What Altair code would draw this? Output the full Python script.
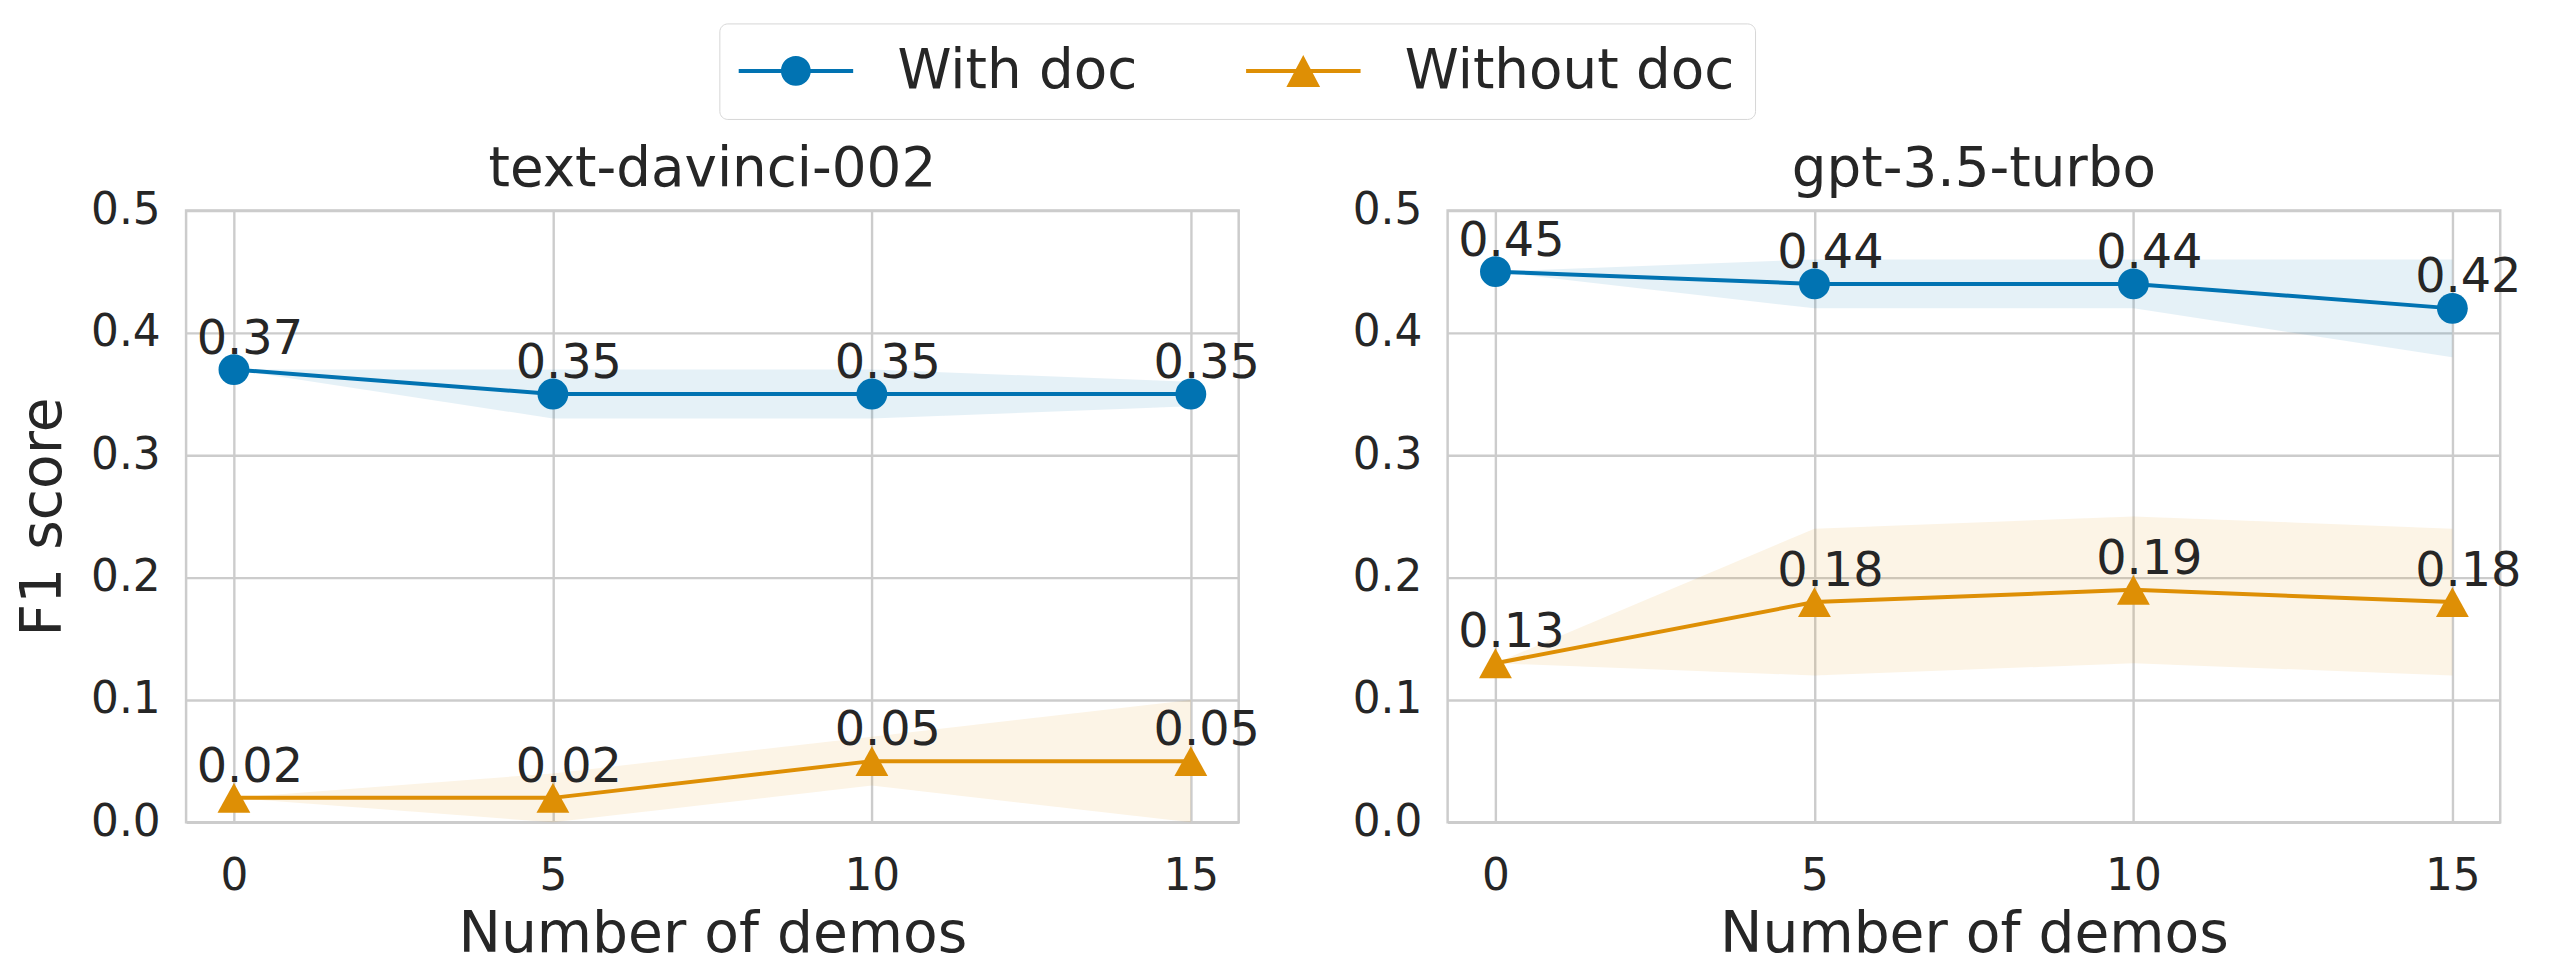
import altair as alt
import pandas as pd

# ---------------- data ----------------
demos = [0, 5, 10, 15]
models = ["text-davinci-002", "gpt-3.5-turbo"]
series_names = ["With doc", "Without doc"]

davinci_with = [0.37, 0.35, 0.35, 0.35]
davinci_with_lo = [0.37, 0.33, 0.33, 0.34]
davinci_with_hi = [0.37, 0.37, 0.37, 0.36]

davinci_without = [0.02, 0.02, 0.05, 0.05]
davinci_without_lo = [0.02, 0.00, 0.03, 0.00]
davinci_without_hi = [0.02, 0.04, 0.07, 0.10]

gpt_with = [0.45, 0.44, 0.44, 0.42]
gpt_with_lo = [0.45, 0.42, 0.42, 0.38]
gpt_with_hi = [0.45, 0.46, 0.46, 0.46]

gpt_without = [0.13, 0.18, 0.19, 0.18]
gpt_without_lo = [0.13, 0.12, 0.13, 0.12]
gpt_without_hi = [0.13, 0.24, 0.25, 0.24]

y_ticks = [0.0, 0.1, 0.2, 0.3, 0.4, 0.5]

colors = {"With doc": "#0173b2", "Without doc": "#de8f05"}
TEXT = "#262626"
FONT = "DejaVu Sans"

rows = []
table = {
    ("text-davinci-002", "With doc"): (davinci_with, davinci_with_lo, davinci_with_hi),
    ("text-davinci-002", "Without doc"): (davinci_without, davinci_without_lo, davinci_without_hi),
    ("gpt-3.5-turbo", "With doc"): (gpt_with, gpt_with_lo, gpt_with_hi),
    ("gpt-3.5-turbo", "Without doc"): (gpt_without, gpt_without_lo, gpt_without_hi),
}
for (m, s), (v, lo, hi) in table.items():
    for x, a, b, c in zip(demos, v, lo, hi):
        rows.append({"model": m, "series": s, "x": x, "y": a, "lo": b, "hi": c,
                     "label": f"{a:.2f}"})
df = pd.DataFrame(rows)

# marker paths (unit square -1..1)
TRI = "M0,-1L1.1,1L-1.1,1Z"
LEG_CIRCLE = ("M-1.87,-0.13L5.8,-0.13L5.8,0.13L-1.87,0.13Z "
              "M2.96,0A1,1 0 1,1 0.96,0A1,1 0 1,1 2.96,0Z")
LEG_TRI = ("M-1.87,-0.13L5.8,-0.13L5.8,0.13L-1.87,0.13Z "
           "M1.96,-1.07L3.09,1.07L0.83,1.07Z")

xscale = alt.Scale(domain=[-0.75, 15.75], nice=False, zero=False)
yscale = alt.Scale(domain=[0, 0.5], nice=False, zero=False)


def panel(model, show_ytitle, with_legend):
    base = alt.Chart(df).transform_filter(alt.datum.model == model)
    xenc = alt.X("x:Q", scale=xscale,
                 axis=alt.Axis(values=demos, title="Number of demos"))
    yenc_axis = alt.Axis(values=y_ticks, format=".1f",
                         title="F1 score" if show_ytitle else None)
    layers = []
    for s in series_names:
        col = colors[s]
        b = base.transform_filter(alt.datum.series == s)
        band = b.mark_area(color=col, opacity=0.1).encode(
            x=xenc,
            y=alt.Y("lo:Q", scale=yscale, axis=yenc_axis),
            y2="hi:Q",
        )
        line = b.mark_line(color=col, strokeWidth=4).encode(
            x=xenc, y=alt.Y("y:Q", scale=yscale, axis=yenc_axis))
        pts = b.mark_point(filled=True, opacity=1, color=col,
                           shape="circle" if s == "With doc" else TRI,
                           size=961 if s == "With doc" else 900,
                           strokeWidth=0).encode(
            x=xenc, y=alt.Y("y:Q", scale=yscale, axis=yenc_axis))
        txt = b.mark_text(fontSize=48, font=FONT, color=TEXT, dx=16, dy=-16,
                          baseline="alphabetic", align="center").encode(
            x=xenc, y=alt.Y("y:Q", scale=yscale, axis=yenc_axis), text="label:N")
        layers += [band, line, pts, txt]
    if with_legend:
        leg = alt.Legend(
            title=None, orient="none", legendX=536, legendY=-188,
            direction="horizontal", labelFontSize=55, labelFont=FONT,
            labelColor=TEXT, symbolSize=900, labelOffset=104, labelLimit=0,
            columnPadding=108, padding=20, strokeColor="#d6d6d6",
            fillColor="white", cornerRadius=8, symbolStrokeWidth=0,
        )
        legend_layer = base.transform_filter("false").mark_point(
            filled=True, opacity=1).encode(
            color=alt.Color("series:N",
                            scale=alt.Scale(domain=series_names,
                                            range=[colors[s] for s in series_names]),
                            legend=leg),
            shape=alt.Shape("series:N",
                            scale=alt.Scale(domain=series_names,
                                            range=[LEG_CIRCLE, LEG_TRI]),
                            legend=leg),
        )
        layers.append(legend_layer)
    return alt.layer(*layers).properties(
        width=1058, height=615,
        title=alt.TitleParams(model, fontSize=55, font=FONT, color=TEXT,
                              fontWeight="normal", frame="group",
                              baseline="alphabetic", offset=-52, anchor="middle"),
    )


chart = alt.hconcat(
    panel("text-davinci-002", True, True),
    panel("gpt-3.5-turbo", False, False),
    spacing=210, bounds="flush",
).properties(
    padding={"left": 5, "top": 12, "right": 20, "bottom": 20},
    background="white",
).configure_view(
    stroke="#cccccc", strokeWidth=2.5,
).configure_axis(
    grid=True, gridColor="#cccccc", gridWidth=2.4, domain=False, ticks=False,
    labelFont=FONT, labelFontSize=44, labelColor=TEXT, labelPadding=22,
    titleFont=FONT, titleFontSize=57, titleColor=TEXT, titleFontWeight="normal",
).configure_axisY(
    labelPadding=26, titlePadding=18,
).configure_axisX(
    labelPadding=33, titlePadding=8,
)

chart.save("out.html", embed_options={"renderer": "svg", "actions": False})
